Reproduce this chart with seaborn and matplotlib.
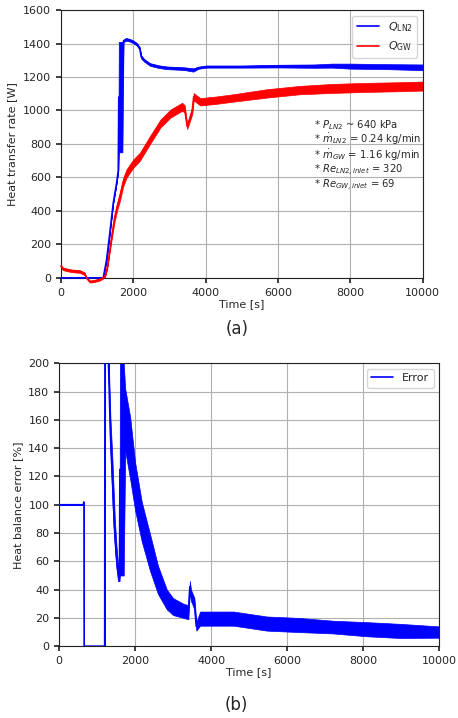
import numpy as np
import pandas as pd
import seaborn as sns
import matplotlib.pyplot as plt

# ---------------------
# Data
# ---------------------
# Q_LN2 (blue): time [s], centre value [W], half-width of the noise band [W]
t_ln2 = [0, 1170, 1262, 1350, 1446, 1538, 1585, 1600, 1700, 1730, 1800, 1900,
         2000, 2100, 2180, 2220, 2300, 2460, 2700, 2920, 3200, 3400, 3660,
         3800, 4020, 5000, 6000, 7000, 7500, 8000, 9000, 10000]
q_ln2 = [0, 0, 107, 265, 446, 565, 640, 1080, 1080, 1415, 1425, 1420,
         1410, 1395, 1370, 1320, 1300, 1275, 1262, 1255, 1252, 1250, 1242,
         1255, 1262, 1262, 1265, 1265, 1268, 1265, 1262, 1258]
s_ln2 = [0, 0, 0, 0, 0, 0, 5, 330, 330, 8, 8, 8,
         8, 8, 8, 10, 8, 8, 8, 8, 8, 8, 10,
         6, 6, 6, 8, 10, 12, 15, 15, 17]

# Q_GW (red)
t_gw = [0, 50, 160, 300, 525, 650, 710, 800, 900, 1076, 1215, 1280, 1350,
        1420, 1490, 1560, 1630, 1720, 1812, 2000, 2180, 2460, 2750, 3030,
        3350, 3420, 3490, 3560, 3630, 3670, 3850, 4310, 4770, 5690, 6610,
        7530, 8450, 9370, 10000]
q_gw = [70, 55, 48, 42, 38, 25, 0, -22, -20, -10, 6, 60, 165,
        270, 364, 430, 484, 570, 623, 683, 723, 823, 922, 982,
        1022, 1010, 905, 950, 1000, 1082, 1052, 1062, 1075, 1102, 1122,
        1132, 1138, 1142, 1146]
s_gw = [8, 8, 8, 8, 8, 8, 6, 6, 6, 6, 4, 6, 10,
        15, 20, 22, 25, 25, 25, 25, 24, 24, 24, 24,
        24, 22, 15, 18, 22, 22, 22, 22, 22, 25, 25,
        27, 27, 27, 27]

# Heat balance error (blue)
t_err = [0, 640, 650, 655, 660, 1200, 1210, 1280, 1300, 1350, 1400, 1430,
         1466, 1510, 1550, 1590, 1600, 1700, 1740, 1870, 2000, 2175, 2395,
         2600, 2834, 3000, 3272, 3400, 3440, 3470, 3560, 3610, 3710, 4590,
         5465, 6300, 7218, 8100, 8974, 10000]
err = [100, 100, 102, 100, 0, 0, 320, 260, 200, 150, 120, 100,
       80, 63, 52, 50, 125, 125, 160, 140, 113, 88, 66,
       47, 33, 28, 25, 24, 42, 36, 30, 14, 19.5, 19.5,
       16, 15, 13.5, 12, 10.8, 10]
s_err = [0, 0, 0, 0, 0, 0, 0, 5, 8, 12, 14, 14,
         10, 8, 6, 4, 75, 75, 22, 22, 17, 14, 13,
         10, 7, 6, 5, 5, 4, 4, 4, 3, 5, 5,
         5, 5, 4.5, 5, 5, 4]

ln2_df = pd.DataFrame({"t": t_ln2, "q": q_ln2, "s": s_ln2})
gw_df = pd.DataFrame({"t": t_gw, "q": q_gw, "s": s_gw})
err_df = pd.DataFrame({"t": t_err, "e": err, "s": s_err})

# ---------------------
# Style
# ---------------------
sns.set_theme(style="ticks", rc={
    "axes.grid": True,
    "grid.color": "#b0b0b0",
    "grid.linewidth": 0.8,
    "axes.edgecolor": "#222222",
    "axes.linewidth": 0.8,
    "xtick.labelsize": 8,
    "ytick.labelsize": 8,
    "axes.labelsize": 8,
    "legend.fontsize": 8,
    "xtick.major.size": 3.5,
    "ytick.major.size": 3.5,
})
plt.rcParams["font.family"] = ["DejaVu Sans"]

fig = plt.figure(figsize=(4.58, 7.18), dpi=100)
ax1 = fig.add_axes([0.133, 0.613, 0.790, 0.373])
ax2 = fig.add_axes([0.129, 0.100, 0.830, 0.394])

# ---------------------
# (a) heat transfer rate
# ---------------------
for df, col, lab in [(ln2_df, "blue", r"$Q_{\mathrm{LN2}}$"),
                     (gw_df, "red", r"$Q_{\mathrm{GW}}$")]:
    ax1.fill_between(df["t"], df["q"] - df["s"], df["q"] + df["s"],
                     color=col, lw=0.5, zorder=2, clip_on=False)
    sns.lineplot(data=df, x="t", y="q", color=col, lw=1.2, sort=False,
                 label=lab, ax=ax1, zorder=3, clip_on=False)

ax1.set_xlim(0, 10000)
ax1.set_ylim(0, 1600)
ax1.set_xticks(range(0, 10001, 2000))
ax1.set_yticks(range(0, 1601, 200))
ax1.set_xlabel("Time [s]", labelpad=1)
ax1.set_ylabel("Heat transfer rate [W]")
ax1.legend(loc="upper right", fontsize=8, framealpha=0.8, handlelength=2)
ax1.text(0.70, 0.595,
         "* $P_{LN2}$ ~ 640 kPa\n"
         r"* $\dot{m}_{LN2}$ = 0.24 kg/min" "\n"
         r"* $\dot{m}_{GW}$ = 1.16 kg/min" "\n"
         "* $Re_{LN2,inlet}$ = 320\n"
         "* $Re_{GW,inlet}$ = 69",
         transform=ax1.transAxes, fontsize=7.2, va="top", ha="left",
         linespacing=1.0)

# ---------------------
# (b) heat balance error
# ---------------------
ax2.fill_between(err_df["t"], err_df["e"] - err_df["s"],
                 err_df["e"] + err_df["s"], color="blue", lw=0.5, zorder=2)
sns.lineplot(data=err_df, x="t", y="e", color="blue", lw=1.2, sort=False,
             label="Error", ax=ax2, zorder=3)
ax2.set_xlim(0, 10000)
ax2.set_ylim(0, 200)
ax2.set_xticks(range(0, 10001, 2000))
ax2.set_yticks(range(0, 201, 20))
ax2.set_xlabel("Time [s]", labelpad=1)
ax2.set_ylabel("Heat balance error [%]")
ax2.legend(loc="upper right", fontsize=8, framealpha=0.8, handlelength=2)

fig.text(0.517, 0.542, "(a)", fontsize=12, ha="center", va="center")
fig.text(0.517, 0.018, "(b)", fontsize=12, ha="center", va="center")

fig.savefig("out.png", dpi=100, facecolor="white")
